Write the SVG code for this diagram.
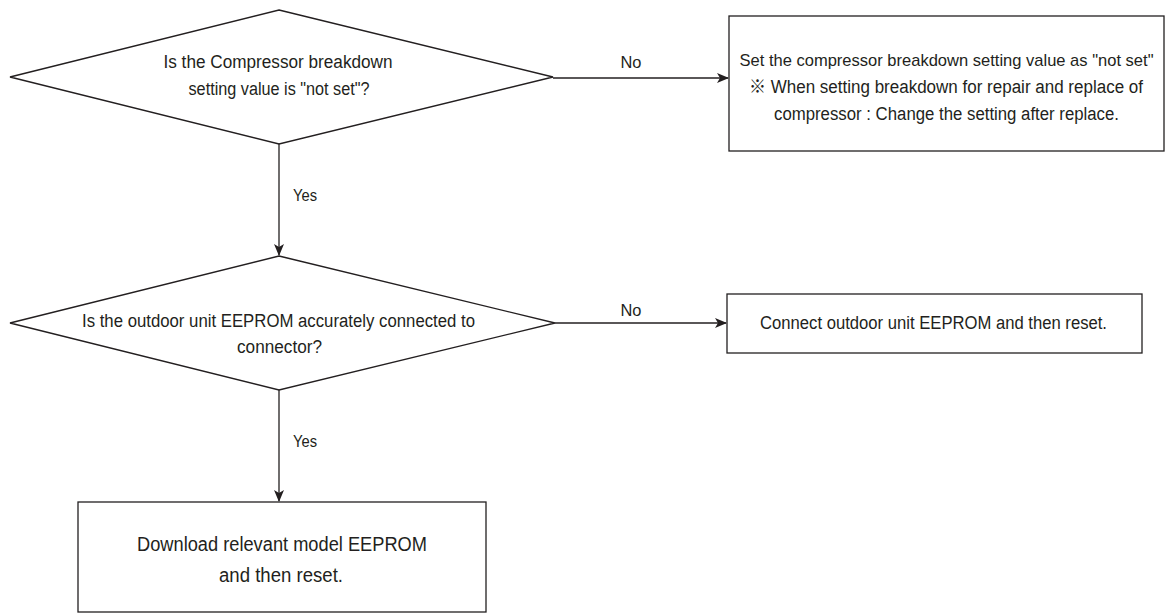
<svg xmlns="http://www.w3.org/2000/svg" width="1165" height="616" viewBox="0 0 1165 616">
<defs>
<marker id="arr" viewBox="0 0 12 10" refX="11" refY="5" markerWidth="12" markerHeight="10" markerUnits="userSpaceOnUse" orient="auto">
<path d="M0,0 L12,5 L0,10 L3,5 z" fill="#231f20"/>
</marker>
<style>
.shape{fill:#fff;stroke:#231f20;stroke-width:1.3}
.conn{fill:none;stroke:#231f20;stroke-width:1.3}
text{font-family:"Liberation Sans","Noto Sans CJK JP",sans-serif;fill:#231f20;text-anchor:middle}
.t{font-size:18px}
.big{font-size:20px}
.lbl{font-size:17px}
</style>
</defs>
<rect width="1165" height="616" fill="#fff"/>
<g id="connectors">
<line class="conn" x1="553" y1="78" x2="728" y2="78" marker-end="url(#arr)"/>
<line class="conn" x1="279" y1="144" x2="279" y2="255" marker-end="url(#arr)"/>
<line class="conn" x1="555" y1="323" x2="726" y2="323" marker-end="url(#arr)"/>
<line class="conn" x1="279" y1="390" x2="279" y2="501" marker-end="url(#arr)"/>
<text class="lbl" x="631" y="68" textLength="21" lengthAdjust="spacingAndGlyphs">No</text>
<text class="lbl" x="305" y="201" textLength="24" lengthAdjust="spacingAndGlyphs">Yes</text>
<text class="lbl" x="631" y="316" textLength="21" lengthAdjust="spacingAndGlyphs">No</text>
<text class="lbl" x="305" y="447" textLength="24" lengthAdjust="spacingAndGlyphs">Yes</text>
</g>
<g id="decision1">
<polygon class="shape" points="279,10 553,77 279,144 10,77"/>
<text class="t" x="278" y="68" textLength="229" lengthAdjust="spacingAndGlyphs">Is the Compressor breakdown</text>
<text class="t" x="279" y="95" textLength="181" lengthAdjust="spacingAndGlyphs">setting value is "not set"?</text>
</g>
<g id="action1">
<rect class="shape" x="729" y="16" width="435" height="135"/>
<text class="t" x="946.5" y="66" style="font-size:17px" textLength="414" lengthAdjust="spacingAndGlyphs">Set the compressor breakdown setting value as "not set"</text>
<text class="t" x="946" y="93" textLength="394" lengthAdjust="spacingAndGlyphs">※ When setting breakdown for repair and replace of</text>
<text class="t" x="946.5" y="120" textLength="345" lengthAdjust="spacingAndGlyphs">compressor : Change the setting after replace.</text>
</g>
<g id="decision2">
<polygon class="shape" points="279,256 555,323 279,390 10,323"/>
<text class="t" x="278.5" y="327" textLength="393" lengthAdjust="spacingAndGlyphs">Is the outdoor unit EEPROM accurately connected to</text>
<text class="t" x="279.5" y="353" textLength="85" lengthAdjust="spacingAndGlyphs">connector?</text>
</g>
<g id="action2">
<rect class="shape" x="727" y="294" width="415" height="59"/>
<text class="t" x="933.5" y="329" textLength="347" lengthAdjust="spacingAndGlyphs">Connect outdoor unit EEPROM and then reset.</text>
</g>
<g id="action3">
<rect class="shape" x="78" y="502" width="408" height="110"/>
<text class="big" x="282" y="551" textLength="290" lengthAdjust="spacingAndGlyphs">Download relevant model EEPROM</text>
<text class="big" x="281" y="582" textLength="124" lengthAdjust="spacingAndGlyphs">and then reset.</text>
</g>
</svg>
